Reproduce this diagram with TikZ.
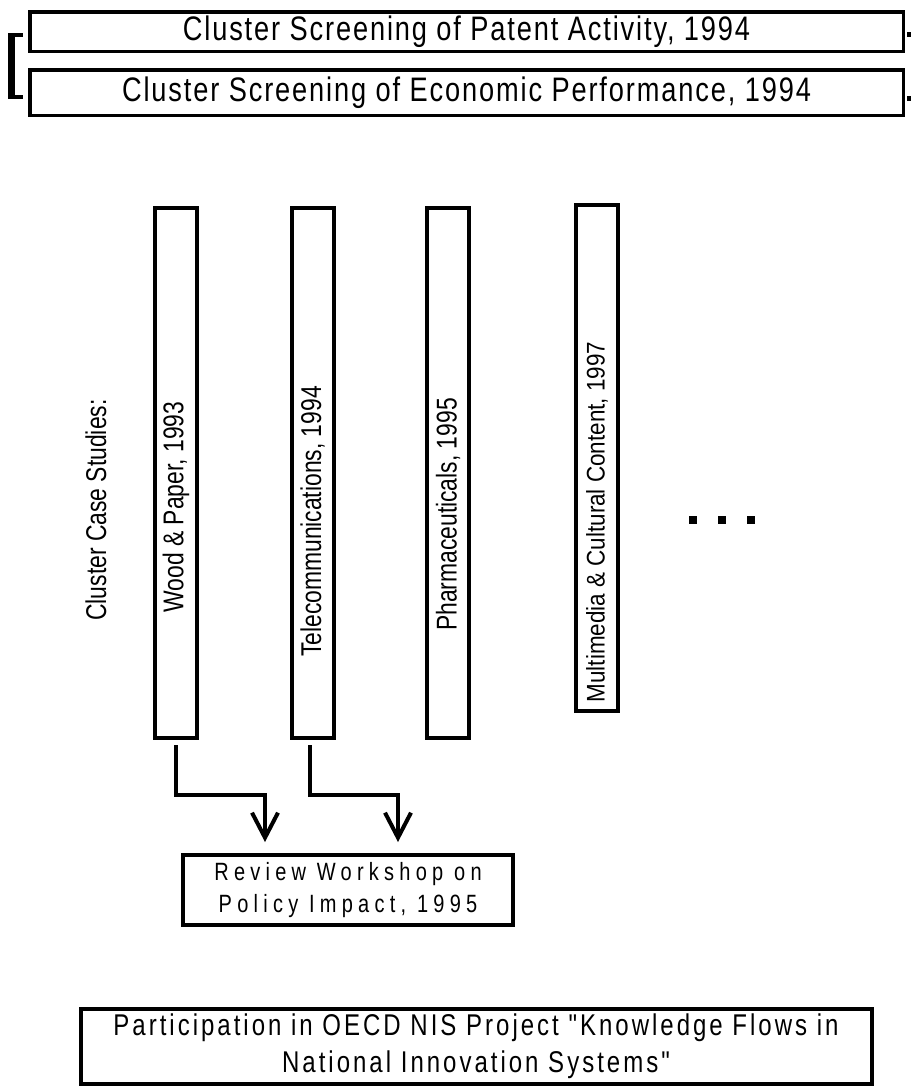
\documentclass[tikz,border=0pt]{standalone}
\usepackage{fontspec}
\newfontfamily\casefont{Liberation Sans}[FakeStretch=0.8]
\newfontfamily\mediafont{Liberation Sans}[FakeStretch=0.88]
\newfontfamily\screenfont{Liberation Sans}[FakeStretch=0.8, LetterSpace=5.5]
\newfontfamily\spacedfont{Liberation Sans}[FakeStretch=0.8, LetterSpace=21]
\newfontfamily\nisfont{Liberation Sans}[FakeStretch=0.8, LetterSpace=10]
\usetikzlibrary{arrows.meta,positioning}

\begin{document}
\begin{tikzpicture}[x=1pt, y=-1pt, every node/.style={inner sep=0pt, outer sep=0pt},
  screenbox/.style={draw, line width=3.5pt, minimum width=873.5pt, align=center,
    font=\screenfont\fontsize{34}{36}\selectfont},
  casebox/.style={draw, line width=4pt, minimum width=42pt, minimum height=530pt},
  caselabel/.style={rotate=90, font=\casefont\fontsize{28.6}{30}\selectfont},
  reviewbox/.style={draw, line width=4pt, minimum width=330pt, minimum height=70pt,
    align=center, font=\spacedfont\fontsize{25}{32}\selectfont},
  nisbox/.style={draw, line width=4pt, minimum width=791pt, minimum height=75pt,
    align=center, font=\nisfont\fontsize{30}{37}\selectfont},
  flow/.style={line width=4pt, -{Straight Barb[length=25pt, width=26pt]}, shorten >=13pt,
    shorten <=7pt}]
  \useasboundingbox (0,0) rectangle (911,1088);

  % screening studies
  \node[screenbox, minimum height=39.5pt] (patent) at (466.5,31.5)
    {Cluster Screening of Patent Activity, 1994};
  \node[screenbox, minimum height=45.5pt] (economic) at (466.5,92.5)
    {Cluster Screening of Economic Performance, 1994};
  \fill (8,33) rectangle (15,99);
  \fill (8,33) rectangle (23,37);
  \fill (8,95) rectangle (23,99);
  \fill (907,32) rectangle (911,37);
  \fill (907,96) rectangle (911,101);

  % case studies
  \node[caselabel] (studies) at (96,510) {Cluster Case Studies:};
  \node[casebox] (wood) at (176,473) {};
  \node[caselabel] (woodlabel) at (176,507) {Wood \& Paper, 1993};
  \node[casebox] (telecom) at (312.5,473) {};
  \node[caselabel] (telecomlabel) at (312.5,521.5) {Telecommunications, 1994};
  \node[casebox] (pharma) at (448,473) {};
  \node[caselabel] (pharmalabel) at (448,514.5) {Pharmaceuticals, 1995};
  \node[casebox, minimum height=506pt] (media) at (597,458) {};
  \node[caselabel, font=\mediafont\fontsize{25.5}{28}\selectfont] (medialabel) at (597,522)
    {Multimedia \& Cultural Content, 1997};
  \foreach \dx in {0,29,58}
    \fill (689+\dx,516) rectangle ++(8,8);

  % review
  \node[reviewbox] (review) at (348,890) {Review Workshop on\\Policy Impact, 1995};
  \draw[flow] (wood.south) -- ++(0,57) -| ([xshift=-83pt]review.north);
  \draw[flow] ([xshift=-2.5pt]telecom.south) -- ++(0,57) -| ([xshift=50pt]review.north);

  % OECD project
  \node[nisbox] (nis) at (476,1046)
    {Participation in OECD NIS Project "Knowledge Flows in\\National Innovation Systems"};
\end{tikzpicture}
\end{document}
